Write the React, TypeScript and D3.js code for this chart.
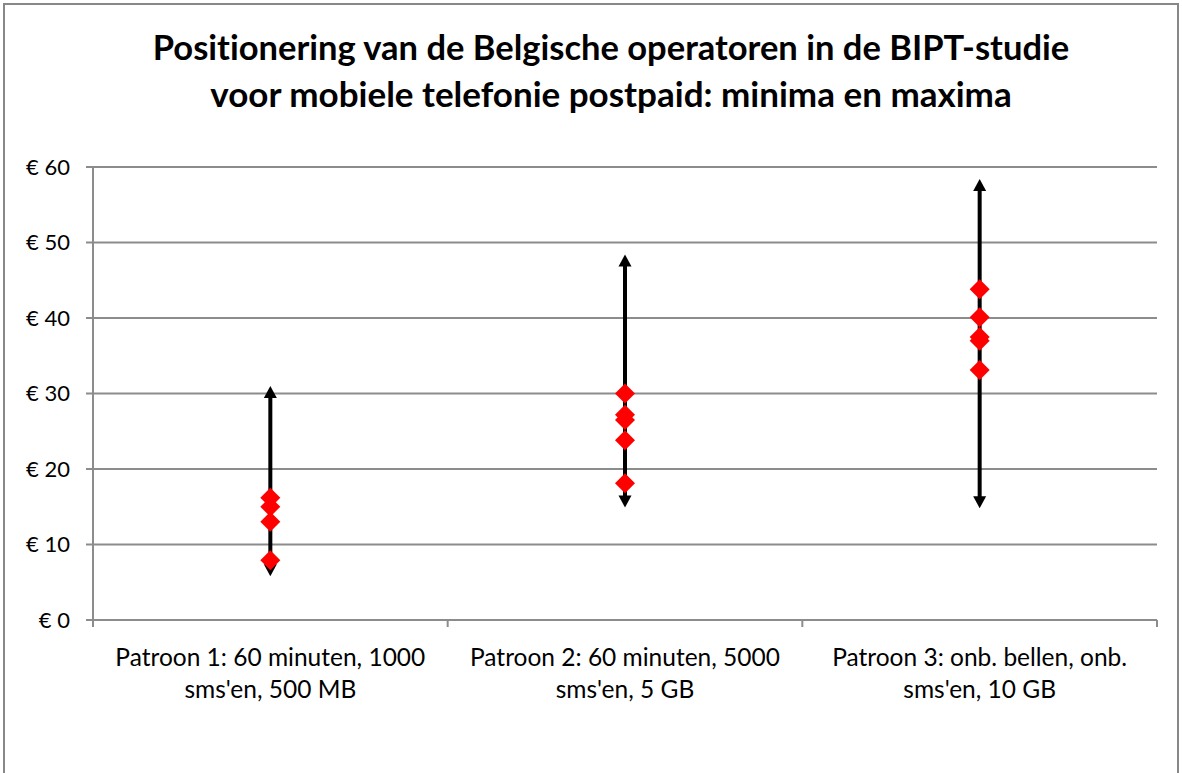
import React from "react";
import * as d3 from "d3";

const titleLines = [
  "Positionering van de Belgische operatoren in de BIPT-studie",
  "voor mobiele telefonie postpaid: minima en maxima",
];
const categories = ["Patroon 1", "Patroon 2", "Patroon 3"];
const categoryLabels = [
  ["Patroon 1: 60 minuten, 1000", "sms'en, 500 MB"],
  ["Patroon 2: 60 minuten, 5000", "sms'en, 5 GB"],
  ["Patroon 3: onb. bellen, onb.", "sms'en, 10 GB"],
];
const minima = [5.8, 14.9, 14.8];
const maxima = [31, 48.4, 58.4];
const operatorPrices = [
  [16.2, 15.0, 13.0, 7.9],
  [30.0, 27.2, 26.5, 23.8, 18.1],
  [43.8, 40.1, 37.5, 37.0, 33.1],
];
const yTicks = [0, 10, 20, 30, 40, 50, 60];

const W = 1182;
const H = 773;
const plot = { left: 93, right: 1157, top: 167, bottom: 620 };
const FONT = "Lato, 'Open Sans', sans-serif";

export default function App() {
  const x = d3
    .scaleBand<string>()
    .domain(categories)
    .range([plot.left, plot.right])
    .paddingInner(0)
    .paddingOuter(0);
  const y = d3.scaleLinear().domain([0, 60]).range([plot.bottom, plot.top]);
  const grid = "#8c8c8c";
  const head = 12;
  const halfW = 6.5;
  const dr = 10;
  const diamond = `M0,${-dr}L${dr},0L0,${dr}L${-dr},0Z`;
  const xTickPositions = [...categories.map((c) => x(c) as number), plot.right];

  return (
    <svg
      width={W}
      height={H}
      style={{ position: "absolute", left: 0, top: 0, background: "#fff", fontVariantLigatures: "none" }}
    >
      <rect x={4} y={4} width={1174} height={820} fill="#fff" stroke="#888" strokeWidth={2} />
      {titleLines.map((t, i) => (
        <text
          key={i}
          x={611}
          y={60 + i * 47}
          textAnchor="middle"
          fontFamily={FONT}
          fontWeight="bold"
          fontSize={i === 0 ? 34.5 : 35}
          fill="#000"
        >
          {t}
        </text>
      ))}
      {yTicks.map((t) => (
        <g key={t}>
          <line x1={plot.left - 7} x2={plot.right} y1={y(t)} y2={y(t)} stroke={grid} strokeWidth={2} />
          <text
            x={70}
            y={y(t)}
            dy="0.36em"
            textAnchor="end"
            fontFamily={FONT}
            fontSize={22}
            fill="#000"
          >
            {`€ ${t}`}
          </text>
        </g>
      ))}
      <line x1={plot.left} x2={plot.left} y1={plot.top} y2={plot.bottom + 1} stroke={grid} strokeWidth={2} />
      {xTickPositions.map((px, i) => (
        <line key={i} x1={px} x2={px} y1={plot.bottom} y2={plot.bottom + 7} stroke={grid} strokeWidth={2} />
      ))}
      {categories.map((c, i) => {
        const cx = (x(c) as number) + x.bandwidth() / 2;
        return (
          <g key={c}>
            {categoryLabels[i].map((l, j) => (
              <text
                key={j}
                x={cx}
                y={666 + j * 32}
                textAnchor="middle"
                fontFamily={FONT}
                fontSize={24.5}
                fill="#000"
              >
                {l}
              </text>
            ))}
          </g>
        );
      })}
      {categories.map((c, i) => {
        const cx = (x(c) as number) + x.bandwidth() / 2;
        const yTop = y(maxima[i]);
        const yBot = y(minima[i]);
        return (
          <g key={c}>
            <line x1={cx} x2={cx} y1={yTop + head - 1} y2={yBot - head + 1} stroke="#000" strokeWidth={4} />
            <path d={`M${cx},${yTop}L${cx + halfW},${yTop + head}L${cx - halfW},${yTop + head}Z`} fill="#000" />
            <path d={`M${cx},${yBot}L${cx + halfW},${yBot - head}L${cx - halfW},${yBot - head}Z`} fill="#000" />
            {operatorPrices[i].map((v, k) => (
              <path key={k} d={diamond} transform={`translate(${cx},${y(v)})`} fill="#ff0000" />
            ))}
          </g>
        );
      })}
    </svg>
  );
}
